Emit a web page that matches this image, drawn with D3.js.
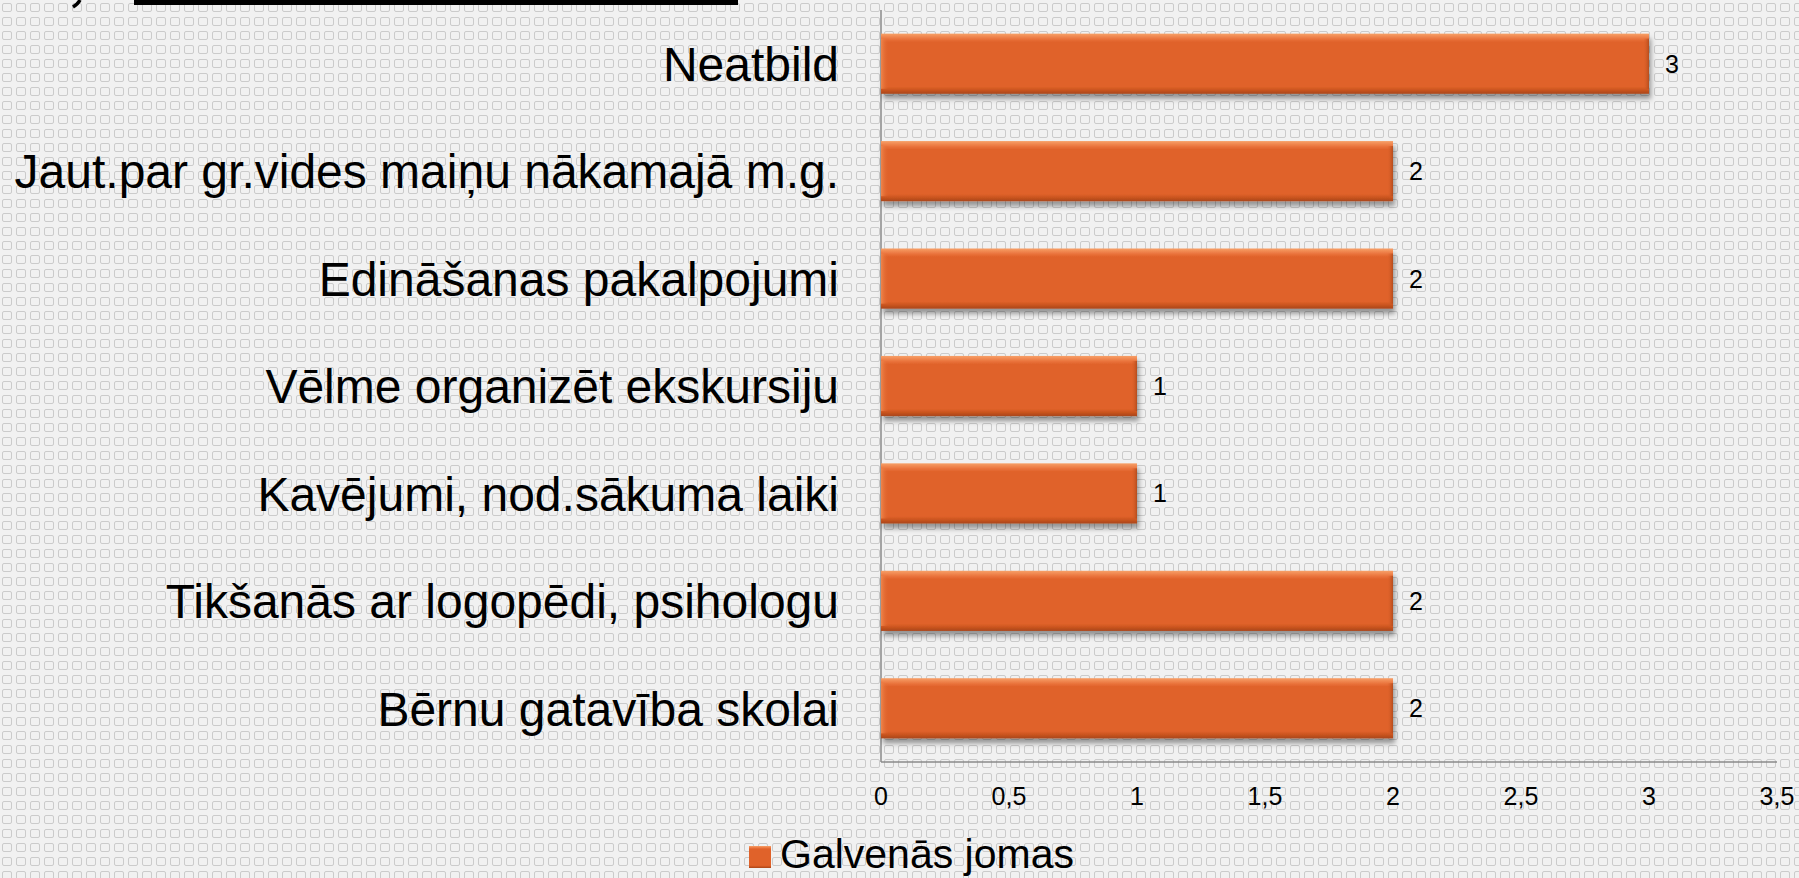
<!DOCTYPE html>
<html>
<head>
<meta charset="utf-8">
<script src="https://cdn.jsdelivr.net/npm/d3@7"></script>
<style>
  html, body { margin: 0; padding: 0; overflow: hidden; background: #efefef; }
  svg { display: block; font-family: "Liberation Sans", Arial, sans-serif; }
</style>
</head>
<body>
<div id="chart"></div>
<script>
const categories = [
  "Neatbild",
  "Jaut.par gr.vides maiņu nākamajā m.g.",
  "Edināšanas pakalpojumi",
  "Vēlme organizēt ekskursiju",
  "Kavējumi, nod.sākuma laiki",
  "Tikšanās ar logopēdi, psihologu",
  "Bērnu gatavība skolai"
];
const values = [3, 2, 2, 1, 1, 2, 2];
const tick_values = [0, 0.5, 1, 1.5, 2, 2.5, 3, 3.5];
const tick_labels = ["0", "0,5", "1", "1,5", "2", "2,5", "3", "3,5"];
const series_name = "Galvenās jomas";

const width_chart = 1799;
const height_chart = 878;
const bar_color = "#e0622a";

const svg = d3.select("#chart")
  .append("svg")
  .attr("width", width_chart)
  .attr("height", height_chart);

const defs = svg.append("defs");

// background tile: small rounded squares
const pat = defs.append("pattern")
  .attr("id", "tile")
  .attr("patternUnits", "userSpaceOnUse")
  .attr("width", 14)
  .attr("height", 14);
pat.append("rect").attr("width", 14).attr("height", 14).attr("fill", "#f1f1f1");
pat.append("rect")
  .attr("x", 2.5).attr("y", 3.5)
  .attr("width", 9).attr("height", 8)
  .attr("rx", 1.5)
  .attr("fill", "none")
  .attr("stroke", "#cbcbcb")
  .attr("stroke-width", 1);

// bar bevel gradients
const g_v = defs.append("linearGradient")
  .attr("id", "barV").attr("x1", 0).attr("y1", 0).attr("x2", 0).attr("y2", 1);
g_v.append("stop").attr("offset", "0%").attr("stop-color", "#f7a068");
g_v.append("stop").attr("offset", "9%").attr("stop-color", "#ea733c");
g_v.append("stop").attr("offset", "14%").attr("stop-color", bar_color);
g_v.append("stop").attr("offset", "88%").attr("stop-color", bar_color);
g_v.append("stop").attr("offset", "94%").attr("stop-color", "#c9541f");
g_v.append("stop").attr("offset", "100%").attr("stop-color", "#a9461a");

const g_h = defs.append("linearGradient")
  .attr("id", "barH").attr("x1", 0).attr("y1", 0).attr("x2", 1).attr("y2", 0);
g_h.append("stop").attr("offset", "0%").attr("stop-color", "#f08a50").attr("stop-opacity", 0.9);
g_h.append("stop").attr("offset", "100%").attr("stop-color", bar_color).attr("stop-opacity", 0);

const g_r = defs.append("linearGradient")
  .attr("id", "barR").attr("x1", 0).attr("y1", 0).attr("x2", 1).attr("y2", 0);
g_r.append("stop").attr("offset", "0%").attr("stop-color", bar_color).attr("stop-opacity", 0);
g_r.append("stop").attr("offset", "100%").attr("stop-color", "#b04a1b").attr("stop-opacity", 0.9);

const shadow = defs.append("filter")
  .attr("id", "shadow")
  .attr("x", "-5%").attr("y", "-20%").attr("width", "115%").attr("height", "160%");
shadow.append("feDropShadow")
  .attr("dx", 2).attr("dy", 5)
  .attr("stdDeviation", 2.5)
  .attr("flood-color", "#000")
  .attr("flood-opacity", 0.38);

svg.append("rect")
  .attr("width", width_chart)
  .attr("height", height_chart)
  .attr("fill", "url(#tile)");

// cut-off title remnant at the top edge
svg.append("rect")
  .attr("x", 134).attr("y", 0)
  .attr("width", 604).attr("height", 5)
  .attr("fill", "#000");
svg.append("path")
  .attr("d", "M80,0 Q78,4 73,7")
  .attr("fill", "none")
  .attr("stroke", "#000")
  .attr("stroke-width", 3.5);

const x = d3.scaleLinear()
  .domain([0, 3.5])
  .range([881, 1777]);

const y = d3.scaleBand()
  .domain(categories)
  .range([10, 762])
  .paddingInner(0.44)
  .paddingOuter(0.22);

const rows = categories.map((c, i) => ({ cat: c, val: values[i] }));

// axis lines
svg.append("line")
  .attr("x1", x(0)).attr("x2", x(0))
  .attr("y1", y.range()[0]).attr("y2", y.range()[1])
  .attr("stroke", "#8a8a8a").attr("stroke-width", 1.5);
svg.append("line")
  .attr("x1", x(0)).attr("x2", x(3.5))
  .attr("y1", y.range()[1]).attr("y2", y.range()[1])
  .attr("stroke", "#8a8a8a").attr("stroke-width", 1.5);

// bars
const bars = svg.append("g").selectAll("g")
  .data(rows)
  .join("g");

bars.append("rect")
  .attr("x", x(0))
  .attr("y", d => y(d.cat))
  .attr("width", d => x(d.val) - x(0))
  .attr("height", y.bandwidth())
  .attr("fill", "url(#barV)")
  .attr("filter", "url(#shadow)");

bars.append("rect")
  .attr("x", x(0))
  .attr("y", d => y(d.cat) + 5)
  .attr("width", 8)
  .attr("height", y.bandwidth() - 10)
  .attr("fill", "url(#barH)");

bars.append("rect")
  .attr("x", d => x(d.val) - 6)
  .attr("y", d => y(d.cat) + 5)
  .attr("width", 6)
  .attr("height", y.bandwidth() - 10)
  .attr("fill", "url(#barR)");

// data labels
bars.append("text")
  .attr("x", d => x(d.val) + 16)
  .attr("y", d => y(d.cat) + y.bandwidth() / 2)
  .attr("dy", "0.36em")
  .attr("font-size", 25)
  .attr("fill", "#000")
  .text(d => d.val);

// category labels
svg.append("g").selectAll("text")
  .data(rows)
  .join("text")
  .attr("x", 839)
  .attr("y", d => y(d.cat) + y.bandwidth() / 2)
  .attr("dy", "0.36em")
  .attr("text-anchor", "end")
  .attr("font-size", 48)
  .attr("fill", "#000")
  .text(d => d.cat);

// x tick labels
svg.append("g").selectAll("text")
  .data(tick_values)
  .join("text")
  .attr("x", d => x(d))
  .attr("y", 805)
  .attr("text-anchor", "middle")
  .attr("font-size", 25)
  .attr("fill", "#000")
  .text((d, i) => tick_labels[i]);

// legend
const legend = svg.append("g");
legend.append("rect")
  .attr("x", 749).attr("y", 846)
  .attr("width", 22).attr("height", 22)
  .attr("fill", "url(#barV)");
legend.append("text")
  .attr("x", 780).attr("y", 868)
  .attr("font-size", 41)
  .attr("fill", "#000")
  .text(series_name);
</script>
</body>
</html>
